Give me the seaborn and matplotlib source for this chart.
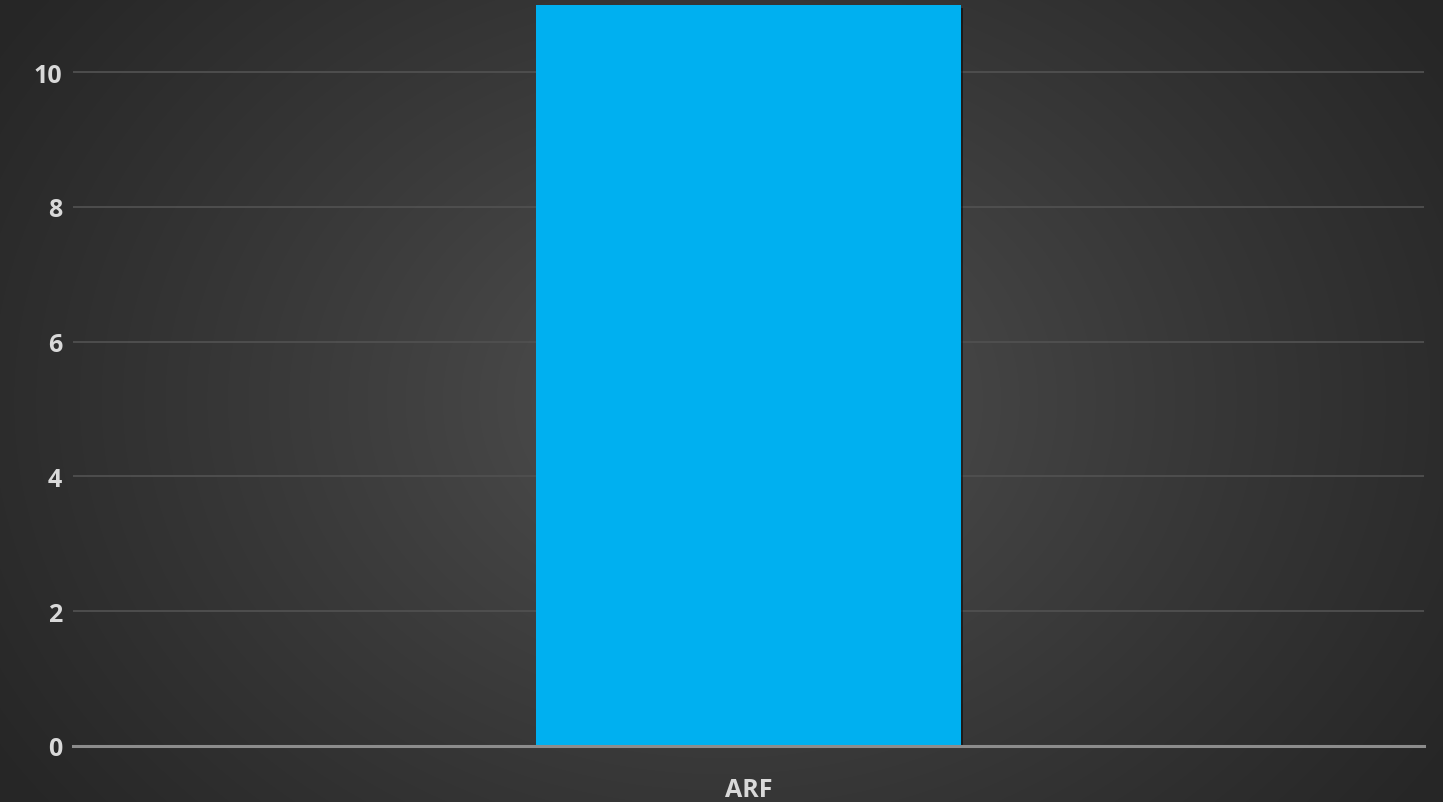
import numpy as np
import pandas as pd
import matplotlib
matplotlib.use("Agg")
import matplotlib.pyplot as plt
import matplotlib.patheffects as pe
import seaborn as sns

categories = ["ARF"]
values = [11]
yticks = [0, 2, 4, 6, 8, 10]

sns.set_theme(style="dark")
plt.rcParams['font.family'] = ['Open Sans', 'DejaVu Sans']

W, H = 1443, 803
fig = plt.figure(figsize=(W / 100, H / 100), dpi=100)

# radial gradient background
bg = fig.add_axes([0, 0, 1, 1])
yy, xx = np.mgrid[0:H, 0:W]
r = np.sqrt(((xx - W * 0.5) / (W * 0.6)) ** 2 + ((yy - H * 0.5) / (H * 0.85)) ** 2)
r = np.clip(r, 0, 1)
c0, c1 = 0x55 / 255, 0x26 / 255
img = c0 + (c1 - c0) * r ** 0.8
bg.imshow(np.dstack([img, img, img]), aspect='auto', extent=[0, 1, 0, 1])
bg.set_axis_off()
bg.set_zorder(0)

ax = fig.add_axes([73 / W, (H - 747) / H, (1424 - 73) / W, 747 / H])
ax.set_zorder(1)
ax.patch.set_alpha(0)

df = pd.DataFrame({"cat": categories, "val": values})
sns.barplot(data=df, x="cat", y="val", color="#00B0F0", saturation=1, width=0.314, ax=ax, zorder=3)
for p in ax.patches:
    p.set_edgecolor("none")
    p.set_path_effects([pe.SimplePatchShadow(offset=(2, -2), shadow_rgbFace="black", alpha=0.5), pe.Normal()])

ax.set_xlim(-0.5, 0.5)
ax.set_ylim(0, 11.085)
ax.set_yticks(yticks)
ax.yaxis.grid(True, color="#505050", lw=1.3, zorder=0)
ax.xaxis.grid(False)
for s in ["top", "right", "left"]:
    ax.spines[s].set_visible(False)
ax.spines["bottom"].set_color("#8c8c8c")
ax.spines["bottom"].set_linewidth(2.2)
ax.spines["bottom"].set_zorder(4)
ax.tick_params(axis='both', length=0, colors="#d9d9d9", labelsize=18)
ax.tick_params(axis='y', pad=8)
ax.tick_params(axis='x', pad=22)
for t in ax.get_xticklabels() + ax.get_yticklabels():
    t.set_fontweight("bold")
    t.set_color("#d9d9d9")
ax.set_xlabel("")
ax.set_ylabel("")

fig.savefig("out.png", dpi=100)
